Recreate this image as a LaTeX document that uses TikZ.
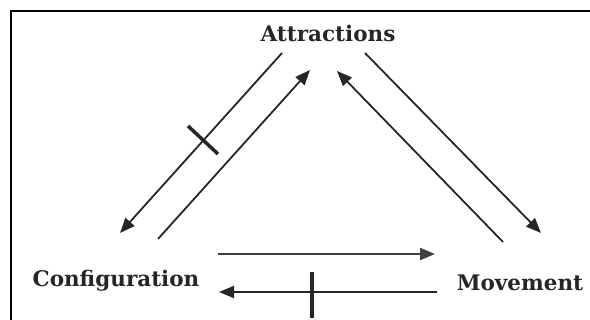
\documentclass[tikz,border=0pt]{standalone}
\usepackage{fontspec}
\setmainfont{DejaVu Serif}
\usetikzlibrary{arrows.meta}
\begin{document}
\begin{tikzpicture}[x=1pt,y=-1pt,
  lbl/.style={font=\bfseries\fontsize{21.5}{24}\selectfont, inner sep=0pt, anchor=base, text=black!85},
  arr/.style={line width=1.8pt, draw=black!85, -{Triangle[length=15pt,width=12pt]}},
  hbar/.style={line width=3.5pt, draw=black!85}]
\useasboundingbox (0,0) rectangle (590,320);
\draw[line width=2pt] (11,322) -- (11,11) -- (592,11);
\node[lbl] (att) at (328,42) {Attractions};
\node[lbl] (conf) at (116,287) {Configuration};
\node[lbl] (mov) at (520,291) {Movement};
% left pair
\coordinate (l1s) at (282,53);
\coordinate (l1e) at (120,233);
\coordinate (l2s) at (158,239);
\coordinate (l2e) at (310,70);
\draw[arr] (l1s) -- (l1e);
\draw[arr] (l2s) -- (l2e);
\draw[hbar] (188,126) -- (218,154);
% right pair
\coordinate (r1s) at (503,242);
\coordinate (r1e) at (337,71);
\coordinate (r2s) at (365,53);
\coordinate (r2e) at (541,233);
\draw[arr] (r1s) -- (r1e);
\draw[arr] (r2s) -- (r2e);
% horizontal
\coordinate (h1s) at (218,254);
\coordinate (h1e) at (435,254);
\coordinate (h2s) at (437,292);
\coordinate (h2e) at (219,292);
\draw[arr, line width=2.4pt, draw=black!75] (h1s) -- (h1e);
\draw[arr] (h2s) -- (h2e);
\draw[hbar] (312,272) -- (312,318);
\end{tikzpicture}
\end{document}
